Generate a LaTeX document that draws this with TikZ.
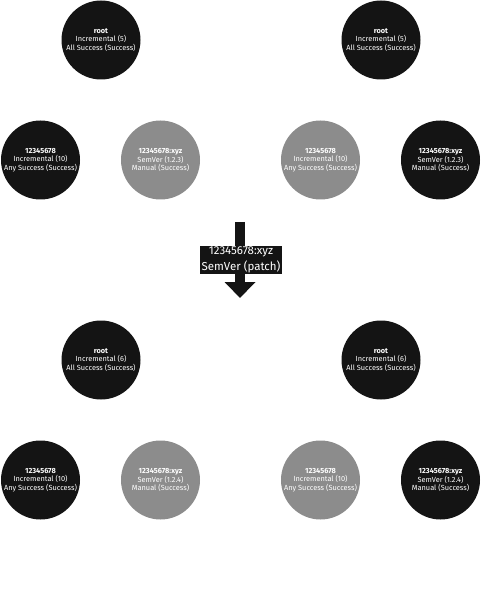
\documentclass[tikz,border=0pt]{standalone}
\usepackage{fontspec}
\setmainfont{Fira Sans}
\usetikzlibrary{arrows.meta}
\definecolor{darkc}{HTML}{141414}
\definecolor{grayc}{HTML}{8C8C8C}
\tikzset{
  ball/.style={circle, minimum size=79pt, inner sep=0pt, align=center, text=white,
    font=\fontsize{7.4}{8.6}\selectfont},
  darkball/.style={ball, fill=darkc},
  grayball/.style={ball, fill=grayc},
  biglabel/.style={fill=darkc, text=white, align=center, inner xsep=1.5pt, inner ysep=1pt,
    font=\fontsize{11.5}{15.5}\selectfont},
  bigarrow/.style={draw=darkc, line width=10pt, -{Triangle[length=16pt,width=30pt]}}
}
\begin{document}
\begin{tikzpicture}[x=1pt,y=-1pt]
\useasboundingbox (0,0) rectangle (481,601);
% top left
\node[darkball] (tlroot) at (101,40) {\textbf{root}\\Incremental (5)\\All Success (Success)};
\node[darkball] (tla) at (40.5,160) {\textbf{12345678}\\Incremental (10)\\Any Success (Success)};
\node[grayball] (tlb) at (160.5,160) {\textbf{12345678:xyz}\\SemVer (1.2.3)\\Manual (Success)};
% top right
\node[darkball] (trroot) at (381,40) {\textbf{root}\\Incremental (5)\\All Success (Success)};
\node[grayball] (tra) at (320.5,160) {\textbf{12345678}\\Incremental (10)\\Any Success (Success)};
\node[darkball] (trb) at (440.5,160) {\textbf{12345678:xyz}\\SemVer (1.2.3)\\Manual (Success)};
% arrow
\coordinate (arrS) at (240,222);
\coordinate (arrE) at (240,298);
\draw[bigarrow] (arrS) -- (arrE);
\node[biglabel] (lbl) at (241,260) {12345678:xyz\\SemVer (patch)};
% bottom left
\node[darkball] (blroot) at (101,360) {\textbf{root}\\Incremental (6)\\All Success (Success)};
\node[darkball] (bla) at (40.5,480) {\textbf{12345678}\\Incremental (10)\\Any Success (Success)};
\node[grayball] (blb) at (160.5,480) {\textbf{12345678:xyz}\\SemVer (1.2.4)\\Manual (Success)};
% bottom right
\node[darkball] (brroot) at (381,360) {\textbf{root}\\Incremental (6)\\All Success (Success)};
\node[grayball] (bra) at (320.5,480) {\textbf{12345678}\\Incremental (10)\\Any Success (Success)};
\node[darkball] (brb) at (440.5,480) {\textbf{12345678:xyz}\\SemVer (1.2.4)\\Manual (Success)};
\end{tikzpicture}
\end{document}
